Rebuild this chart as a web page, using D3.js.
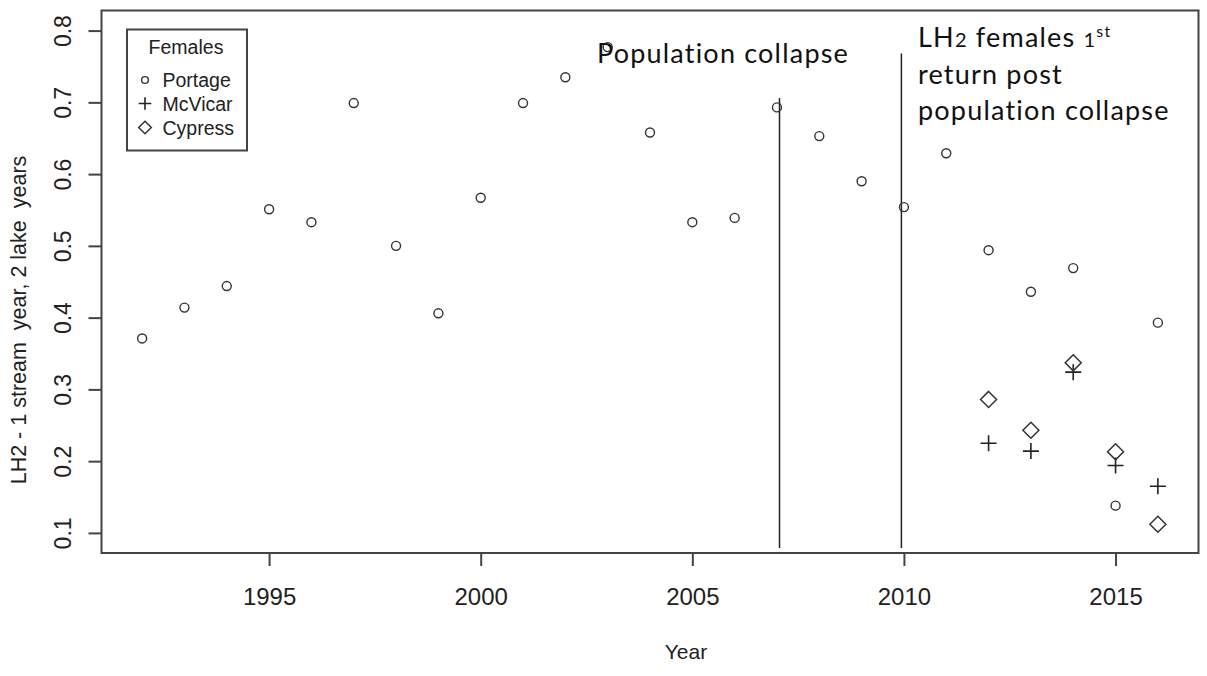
<!DOCTYPE html>
<html>
<head>
<meta charset="utf-8">
<script src="https://cdn.jsdelivr.net/npm/d3@7"></script>
<style>
  html, body { margin: 0; padding: 0; background: #fff; }
  svg { display: block; }
  .r-text { font-family: "Liberation Sans", Arial, Helvetica, sans-serif; fill: #222; }
  .note { font-family: Lato, "Open Sans", sans-serif; fill: #111; letter-spacing: 1.2px; }
</style>
</head>
<body>
<svg id="chart" width="1207" height="676"></svg>
<script>
// ---- data ----
const years = [1992, 1993, 1994, 1995, 1996, 1997, 1998, 1999, 2000, 2001, 2002, 2003,
               2004, 2005, 2006, 2007, 2008, 2009, 2010, 2011, 2012, 2013, 2014, 2015, 2016];
const portage = [0.371, 0.414, 0.444, 0.551, 0.533, 0.699, 0.500, 0.406, 0.567, 0.699, 0.735, 0.777,
                 0.658, 0.533, 0.539, 0.693, 0.653, 0.590, 0.554, 0.629, 0.494, 0.436, 0.469, 0.138, 0.393];
const laterYears = [2012, 2013, 2014, 2015, 2016];
const mcvicar = [0.225, 0.214, 0.324, 0.194, 0.165];
const cypress = [0.286, 0.243, 0.337, 0.213, 0.112];
const xTicks = [1995, 2000, 2005, 2010, 2015];
const yTicks = [0.1, 0.2, 0.3, 0.4, 0.5, 0.6, 0.7, 0.8];
const markerYears = [2007.06, 2009.94];
const markerTops = [0.706, 0.768];
const markerBottom = 0.079;
const legendNames = ["Portage", "McVicar", "Cypress"];

// ---- layout ----
const svg = d3.select("#chart");
const plotLeft = 101.5, plotRight = 1198.5, plotTop = 10.5, plotBottom = 553;
const x = d3.scaleLinear().domain([1991.04, 2016.96]).range([plotLeft, plotRight]);
const y = d3.scaleLinear().domain([0.072, 0.828]).range([plotBottom, plotTop]);
const ink = "#333";

// plot frame
svg.append("rect")
  .attr("x", plotLeft).attr("y", plotTop)
  .attr("width", plotRight - plotLeft).attr("height", plotBottom - plotTop)
  .attr("fill", "none").attr("stroke", "#444").attr("stroke-width", 2);

// x axis
const xAxis = svg.append("g").attr("transform", `translate(0,${plotBottom})`)
  .call(d3.axisBottom(x).tickValues(xTicks).tickFormat(d3.format("d")).tickSize(13).tickPadding(0));
xAxis.select(".domain").remove();
xAxis.selectAll(".tick line").attr("stroke", "#444").attr("stroke-width", 2);
xAxis.selectAll(".tick text").attr("class", "r-text")
  .attr("y", 52).attr("dy", null)
  .style("font-size", "24px");

// y axis (labels parallel to the axis)
const yAxis = svg.append("g").attr("transform", `translate(${plotLeft},0)`)
  .call(d3.axisLeft(y).tickValues(yTicks).tickFormat(d3.format(".1f")).tickSize(13));
yAxis.select(".domain").remove();
yAxis.selectAll(".tick line").attr("stroke", "#444").attr("stroke-width", 2);
yAxis.selectAll(".tick text").attr("class", "r-text")
  .attr("x", null).attr("dy", null)
  .attr("text-anchor", "middle")
  .attr("transform", "translate(-31,0) rotate(-90)")
  .style("font-size", "23px");

// axis titles
svg.append("text").attr("class", "r-text")
  .attr("x", 686).attr("y", 659).attr("text-anchor", "middle")
  .style("font-size", "21px").text("Year");
svg.append("text").attr("class", "r-text")
  .attr("transform", "translate(26,320) rotate(-90)")
  .attr("text-anchor", "middle")
  .style("font-size", "21.5px").style("white-space", "pre")
  .text("LH2 - 1 stream  year, 2 lake  years");

// marker lines
svg.selectAll("line.marker").data(markerYears).join("line")
  .attr("class", "marker")
  .attr("x1", d => x(d)).attr("x2", d => x(d))
  .attr("y1", (d, i) => y(markerTops[i])).attr("y2", y(markerBottom))
  .attr("stroke", "#222").attr("stroke-width", 1.5);

// symbol helpers
function circleSym(g, cx, cy, r) {
  g.append("circle").attr("cx", cx).attr("cy", cy).attr("r", r)
    .attr("fill", "none").attr("stroke", ink).attr("stroke-width", 1.4);
}
function plusSym(g, cx, cy, h) {
  g.append("path").attr("d", `M${cx - h},${cy}H${cx + h}M${cx},${cy - h}V${cy + h}`)
    .attr("fill", "none").attr("stroke", "#222").attr("stroke-width", 1.6);
}
function diamondSym(g, cx, cy, h) {
  g.append("path").attr("d", `M${cx},${cy - h}L${cx + h},${cy}L${cx},${cy + h}L${cx - h},${cy}Z`)
    .attr("fill", "none").attr("stroke", ink).attr("stroke-width", 1.5);
}

// points
const pts = svg.append("g");
years.forEach((yr, i) => circleSym(pts, x(yr), y(portage[i]), 4.5));
laterYears.forEach((yr, i) => plusSym(pts, x(yr), y(mcvicar[i]), 8));
laterYears.forEach((yr, i) => diamondSym(pts, x(yr), y(cypress[i]), 8));

// legend
const lg = svg.append("g");
lg.append("rect").attr("x", 127).attr("y", 29.5).attr("width", 120).attr("height", 121)
  .attr("fill", "#fff").attr("stroke", "#444").attr("stroke-width", 2);
lg.append("text").attr("class", "r-text").attr("x", 186).attr("y", 54)
  .attr("text-anchor", "middle").style("font-size", "19.5px").text("Females");
const rowY = [80, 103.5, 127.5];
circleSym(lg, 145, rowY[0], 3.4);
plusSym(lg, 145, rowY[1], 6.3);
diamondSym(lg, 145, rowY[2], 6.3);
legendNames.forEach((n, i) => {
  lg.append("text").attr("class", "r-text").attr("x", 162.5).attr("y", rowY[i] + 7)
    .style("font-size", "19.5px").text(n);
});

// annotations
svg.append("text").attr("class", "note").attr("x", 597).attr("y", 63)
  .style("font-size", "27px").text("Population collapse");

const note = svg.append("text").attr("class", "note").attr("x", 918).style("font-size", "27px");
const l1 = note.append("tspan").attr("x", 918).attr("y", 47);
l1.append("tspan").text("LH");
l1.append("tspan").style("font-size", "20px").text("2");
l1.append("tspan").text(" females ");
l1.append("tspan").style("font-size", "20px").text("1");
l1.append("tspan").style("font-size", "16px").attr("dy", -10).text("st");
note.append("tspan").attr("x", 918).attr("y", 84).text("return post");
note.append("tspan").attr("x", 918).attr("y", 120).text("population collapse");
</script>
</body>
</html>
